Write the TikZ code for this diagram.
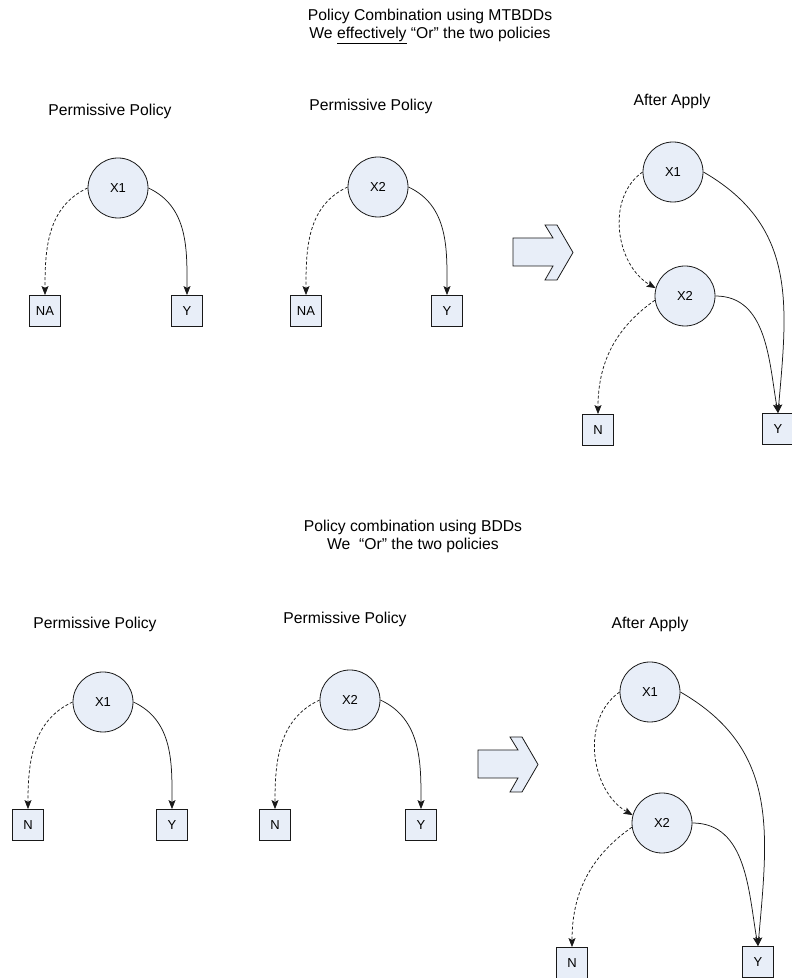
\documentclass[tikz,border=0pt]{standalone}
\usepackage{fontspec}
\setmainfont{Liberation Sans}
\usetikzlibrary{arrows.meta}
\definecolor{nodefill}{RGB}{232,238,248}
\definecolor{ink}{RGB}{25,25,25}
\begin{document}
\begin{tikzpicture}[x=1pt,y=1pt,
  var/.style={circle, draw=ink, fill=nodefill, line width=0.8pt,
    minimum size=60pt, inner sep=0pt, font=\fontsize{13}{15}\selectfont},
  leaf/.style={rectangle, draw=ink, fill=nodefill, line width=0.8pt,
    minimum width=31pt, minimum height=31pt, inner sep=1pt,
    font=\fontsize{13}{15}\selectfont},
  heading/.style={align=center, font=\fontsize{15.7}{18}\selectfont},
  caption/.style={font=\fontsize{15.7}{18}\selectfont},
  low/.style={draw=ink, line width=0.75pt, dash pattern=on 3pt off 2pt,
    -{Stealth[length=9pt,width=7pt,inset=1.8pt]}},
  high/.style={draw=ink, line width=0.75pt,
    -{Stealth[length=9pt,width=7pt,inset=1.8pt]}},
  bigarrow/.style={draw=ink, fill=nodefill, line width=0.8pt, line join=miter}]
\useasboundingbox (0,0) rectangle (792,978);

% ---------- MTBDD combination ----------
\node[heading] (mt) at (430,952) {Policy Combination using MTBDDs\\We \underline{effectively} “Or” the two policies};
\node[caption] (mtpa) at (110,867) {Permissive Policy};
\node[caption] (mtpb) at (371,872) {Permissive Policy};
\node[caption] (mtres) at (672,877) {After Apply};

% first policy
\node[var]  (ma1) at (118,790) {X1};
\node[leaf] (ma0) at (45,667)  {NA};
\node[leaf] (may) at (187,667) {Y};
\draw[low]  (ma1.west) to[out=205,in=90] (ma0.north);
\draw[high] (ma1.east) to[out=-25,in=90] (may.north);

% second policy
\node[var]  (mb2) at (378,791) {X2};
\node[leaf] (mb0) at (306,667) {NA};
\node[leaf] (mby) at (447,667) {Y};
\draw[low]  (mb2.west) to[out=205,in=90] (mb0.north);
\draw[high] (mb2.east) to[out=-25,in=90] (mby.north);

% apply arrow
\draw[bigarrow] (513,740) -- (553,740) -- (545,753) -- (557,753) -- (573,725.5)
  -- (557,698) -- (545,698) -- (553,712) -- (513,712) -- cycle;

% result
\node[var]  (mr1) at (673,806) {X1};
\node[var]  (mr2) at (685,682) {X2};
\node[leaf] (mrn) at (598,548) {N};
\node[leaf] (mry) at (778,549) {Y};
\draw[low]  (mr1.west) to[out=215,in=150] (mr2.165);
\draw[high] (mr1.east) to[out=-30,in=85,looseness=1.1] (mry.north);
\draw[high] (mr2.east) to[out=0,in=100] (mry.north);
\draw[low]  (mr2.188) to[out=215,in=90] (mrn.north);

% ---------- BDD combination ----------
\node[heading] (bd) at (413,442) {Policy combination using BDDs\\We\ \ “Or” the two policies};
\node[caption] (bdpa) at (95,354)  {Permissive Policy};
\node[caption] (bdpb) at (345,359) {Permissive Policy};
\node[caption] (bdres) at (650,354) {After Apply};

% first policy
\node[var]  (ba1) at (103,276) {X1};
\node[leaf] (ba0) at (28,153)  {N};
\node[leaf] (bay) at (172,153) {Y};
\draw[low]  (ba1.west) to[out=205,in=90] (ba0.north);
\draw[high] (ba1.east) to[out=-25,in=90] (bay.north);

% second policy
\node[var]  (bb2) at (350,278) {X2};
\node[leaf] (bb0) at (275,153) {N};
\node[leaf] (bby) at (421,153) {Y};
\draw[low]  (bb2.west) to[out=205,in=90] (bb0.north);
\draw[high] (bb2.east) to[out=-25,in=90] (bby.north);

% apply arrow
\draw[bigarrow] (478,228) -- (518,228) -- (510,241) -- (522,241) -- (538,213.5)
  -- (522,186) -- (510,186) -- (518,200) -- (478,200) -- cycle;

% result
\node[var]  (br1) at (650,286) {X1};
\node[var]  (br2) at (662,155) {X2};
\node[leaf] (brn) at (572,15)  {N};
\node[leaf] (bry) at (758,16)  {Y};
\draw[low]  (br1.west) to[out=215,in=150] (br2.165);
\draw[high] (br1.east) to[out=-30,in=85,looseness=1.1] (bry.north);
\draw[high] (br2.east) to[out=0,in=100] (bry.north);
\draw[low]  (br2.188) to[out=215,in=90] (brn.north);
\end{tikzpicture}
\end{document}
